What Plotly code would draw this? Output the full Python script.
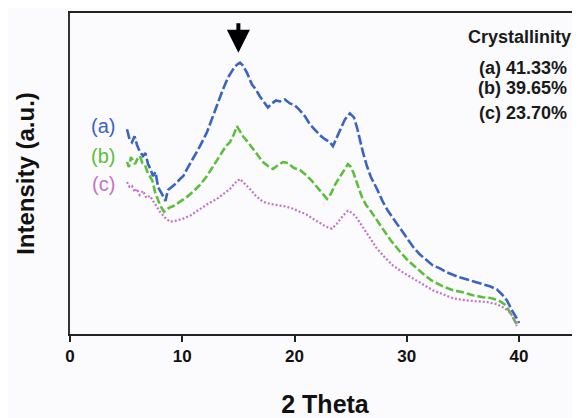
import plotly.graph_objects as go

# 2-theta (degrees) and intensity (a.u.)
theta_a = [5.08, 5.30, 5.52, 5.75, 5.97, 6.20, 6.50, 6.72, 6.95, 7.17, 7.39, 7.62, 7.84, 8.06,
           8.28, 8.50, 8.73, 9.17, 9.50, 9.80, 10.10, 10.42, 10.95,
           11.58, 12.20, 12.73, 13.18, 13.62, 14.07, 14.51, 14.87, 15.14, 15.41, 15.76, 16.21,
           16.56, 16.92, 17.28, 17.63, 17.99, 18.34, 18.70, 19.14, 19.59, 20.04, 20.48, 20.93,
           21.37, 21.82, 22.26, 22.71, 23.15, 23.42, 23.78, 24.13, 24.49, 24.93, 25.29, 25.56,
           25.82, 26.09, 26.45, 26.80, 27.34, 27.87, 28.32, 28.76, 29.39, 30.01, 30.54, 31.17,
           31.79, 32.32, 32.95, 33.57, 34.46, 35.35, 36.06, 36.78, 37.40, 38.02, 38.47, 38.91,
           39.36, 39.89, 40.00]
int_a = [206, 196, 193, 199, 190, 184, 179, 182, 171, 166, 159, 163, 148, 144,
         139, 134, 145, 149, 152, 156, 159, 166, 176,
         189, 203, 219, 234, 246, 258, 266, 271, 273, 270, 263, 251,
         246, 239, 233, 228, 232, 235, 234, 236, 232, 230, 225, 219,
         211, 205, 200, 196, 193, 189, 198, 208, 216, 222, 218, 208,
         194, 183, 169, 158, 146, 133, 124, 117, 107, 96, 88, 80,
         74, 69, 66, 62, 58, 55, 52, 50, 48, 45, 40, 34,
         24, 14, 11]

theta_b = [5.08, 5.25, 5.43, 5.61, 5.79, 6.00, 6.23, 6.45, 6.68, 6.90, 7.12, 7.35, 7.57, 7.80,
           8.01, 8.37, 8.82, 9.26, 9.80, 10.42,
           10.95, 11.58, 12.20, 12.73, 13.36, 13.89, 14.25, 14.60, 14.87, 15.14, 15.41, 15.85,
           16.30, 16.74, 17.19, 17.63, 18.08, 18.52, 18.97, 19.41, 19.95, 20.48, 21.02, 21.55,
           22.08, 22.53, 22.89, 23.24, 23.60, 24.04, 24.40, 24.76, 25.02, 25.29, 25.65, 26.00,
           26.36, 26.71, 27.25, 27.87, 28.58, 29.39, 30.10, 30.90, 31.61, 32.32, 33.21, 34.11,
           35.00, 35.89, 36.78, 37.58, 38.29, 38.82, 39.27, 39.89]
int_b = [173, 168, 178, 174, 171, 176, 179, 172, 170, 163, 158, 154, 143, 137,
         130, 123, 127, 129, 133, 138,
         143, 150, 159, 168, 179, 189, 193, 201, 209, 204, 199, 193,
         186, 179, 173, 169, 166, 170, 173, 172, 167, 165, 160, 154,
         147, 141, 136, 141, 150, 158, 164, 171, 168, 161, 149, 138,
         130, 125, 116, 106, 94, 83, 74, 66, 59, 53, 48, 44,
         42, 39, 37, 36, 33, 29, 20, 8]

theta_c = [5.08, 5.30, 5.52, 5.75, 5.97, 6.20, 6.50, 6.80, 7.12, 7.57, 8.01, 8.46, 8.90, 9.44,
           10.06, 10.69, 11.58,
           12.29, 13.09, 13.71, 14.25, 14.69, 15.14, 15.58, 16.03, 16.56, 17.19, 17.81, 18.70,
           19.32, 19.86, 20.48, 21.10, 21.64, 22.26, 22.80, 23.33, 23.78, 24.31, 24.76, 25.11,
           25.47, 26.00, 26.63, 27.34, 28.05, 28.76, 29.65, 30.54, 31.43, 32.32, 33.21, 34.11,
           35.17, 36.24, 37.22, 38.02, 38.56, 39.09, 39.54, 39.80]
int_c = [153, 148, 149, 143, 146, 140, 144, 137, 139, 131, 123, 117, 113, 114,
         116, 119, 126,
         131, 136, 141, 146, 152, 156, 151, 146, 139, 133, 131, 129,
         128, 126, 123, 120, 116, 112, 108, 106, 111, 119, 124, 122,
         118, 109, 98, 86, 77, 69, 62, 56, 50, 44, 40, 36,
         34, 33, 32, 30, 27, 23, 16, 8]

series_labels = ["(a)", "(b)", "(c)"]
crystallinity = ["41.33%", "39.65%", "23.70%"]
x_ticks = [0, 10, 20, 30, 40]

colors = ["#3b63c4", "#5cbf3c", "#c274c8"]
dashes = ["10px,3px", "8px,3px", "2px,2px"]
widths = [2.6, 2.6, 2.2]

fig = go.Figure()
for xs, ys, c, d, w, name in zip([theta_a, theta_b, theta_c], [int_a, int_b, int_c],
                                  colors, dashes, widths, series_labels):
    fig.add_trace(go.Scatter(x=xs, y=ys, mode="lines", name=name,
                             line=dict(color=c, width=w, dash=d), showlegend=False))

FONT = "Liberation Sans, Arial, sans-serif"

# series labels on the left
label_y = [209, 179, 151]
for t, c, yv in zip(series_labels, colors, label_y):
    fig.add_annotation(x=2.94, y=yv, xref="x", yref="y", text=t, showarrow=False,
                       yanchor="middle", font=dict(family=FONT, size=20, color=c))

# crystallinity box
fig.add_annotation(x=0.987, y=0.926, xref="paper", yref="paper", xanchor="right",
                   yanchor="middle", text="<b>Crystallinity</b>", showarrow=False,
                   font=dict(family=FONT, size=18, color="#1a1a1a"))
row_y = [0.83, 0.765, 0.69]
for t, v, yv in zip(series_labels, crystallinity, row_y):
    fig.add_annotation(x=0.978, y=yv, xref="paper", yref="paper", xanchor="right",
                       yanchor="middle", text="<b>%s %s</b>" % (t, v), showarrow=False,
                       font=dict(family=FONT, size=18, color="#1a1a1a"))

# arrow marking the main peak
fig.add_annotation(x=15, y=283, xref="x", yref="y", ax=0, ay=-31, text="",
                   showarrow=True, arrowhead=2, arrowsize=1.15, arrowwidth=4,
                   arrowcolor="#000000")

fig.update_layout(
    width=572, height=410,
    margin=dict(l=62, r=0, t=5, b=82),
    paper_bgcolor="#fbfbfd", plot_bgcolor="#fbfbfd",
    font=dict(family=FONT, color="#111111"),
    xaxis=dict(range=[0, 45.43], tickvals=x_ticks, ticktext=["<b>%d</b>" % v for v in x_ticks],
               tickfont=dict(size=17, family=FONT, color="#111111"),
               ticks="outside", ticklen=6, tickwidth=1.5, tickcolor="#222222",
               showline=True, linecolor="#222222", linewidth=2, mirror=True,
               showgrid=False, zeroline=False,
               title=dict(text="<b>2 Theta</b>", font=dict(size=25, family=FONT, color="#111111"),
                          standoff=34)),
    yaxis=dict(range=[0, 323], showticklabels=False, ticks="", showgrid=False, zeroline=False,
               showline=True, linecolor="#333333", linewidth=2,
               title=dict(text="<b>Intensity (a.u.)</b>", font=dict(size=24, family=FONT, color="#111111"),
                          standoff=27)),
)

fig.write_html("out.html")
